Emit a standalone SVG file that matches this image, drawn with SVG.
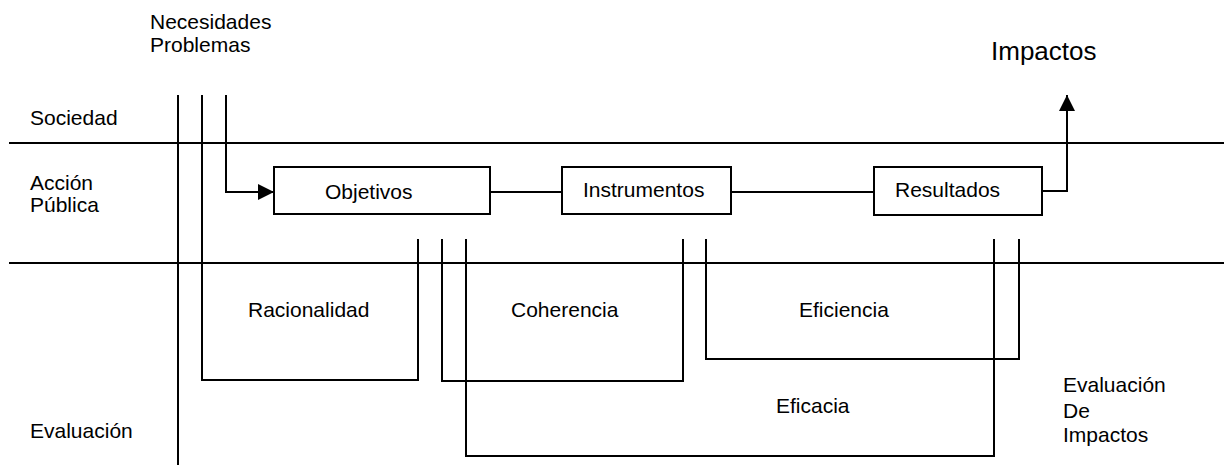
<svg xmlns="http://www.w3.org/2000/svg" width="1224" height="472" viewBox="0 0 1224 472">
<style>
text{font-family:"Liberation Sans",Arial,sans-serif;font-size:21px;fill:#000}
.big{font-size:26px}
.ln{fill:none;stroke:#000;stroke-width:2}
.box{fill:#fff;stroke:#000;stroke-width:2}
</style>
<defs>
<marker id="ah" markerWidth="16" markerHeight="16" viewBox="0 0 16 16" refX="16" refY="8" orient="auto" markerUnits="userSpaceOnUse">
<path d="M0,0 L16,8 L0,16 Z" fill="#000"/>
</marker>
</defs>
<g id="labels">
<text x="150" y="29">Necesidades</text>
<text x="150" y="52">Problemas</text>
<text class="big" x="991" y="60">Impactos</text>
<text x="30" y="125">Sociedad</text>
<text x="30" y="190">Acción</text>
<text x="30" y="212">Pública</text>
<text x="30" y="438">Evaluación</text>
<text x="1063" y="392">Evaluación</text>
<text x="1063" y="418">De</text>
<text x="1063" y="442">Impactos</text>
</g>
<g id="connectors">
<line class="ln" x1="9" y1="143" x2="1224" y2="143"/>
<line class="ln" x1="9" y1="263" x2="1224" y2="263"/>
<line class="ln" x1="178" y1="95" x2="178" y2="465"/>
<polyline class="ln" points="202,95 202,380 418,380 418,239"/>
<polyline class="ln" points="226,95 226,192 274,192" marker-end="url(#ah)"/>
<line class="ln" x1="490" y1="192" x2="562" y2="192"/>
<line class="ln" x1="731" y1="192" x2="874" y2="192"/>
<polyline class="ln" points="1042,191 1067,191 1067,95" marker-end="url(#ah)"/>
<polyline class="ln" points="442,239 442,381 683,381 683,239"/>
<polyline class="ln" points="466,239 466,456 994,456 994,239"/>
<polyline class="ln" points="706,239 706,359 1019,359 1019,239"/>
</g>
<g id="node-objetivos">
<rect class="box" x="274" y="167" width="216" height="47"/>
<text x="325" y="199">Objetivos</text>
</g>
<g id="node-instrumentos">
<rect class="box" x="562" y="167" width="169" height="47"/>
<text x="583" y="197">Instrumentos</text>
</g>
<g id="node-resultados">
<rect class="box" x="874" y="167" width="168" height="48"/>
<text x="895" y="197">Resultados</text>
</g>
<g id="region-racionalidad"><text x="248" y="317">Racionalidad</text></g>
<g id="region-coherencia"><text x="511" y="317">Coherencia</text></g>
<g id="region-eficiencia"><text x="799" y="317">Eficiencia</text></g>
<g id="region-eficacia"><text x="776" y="413">Eficacia</text></g>
</svg>
